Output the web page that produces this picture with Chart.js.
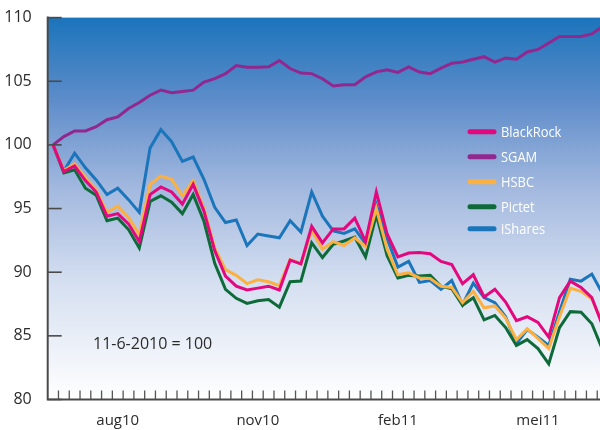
<!DOCTYPE html>
<html>
<head>
<meta charset="utf-8">
<script src="https://cdn.jsdelivr.net/npm/chart.js@4.4.1/dist/chart.umd.min.js"></script>
<style>
html, body { margin:0; padding:0; overflow:hidden; background:#ffffff; }
#wrap { position:relative; width:608px; height:430px; }
</style>
</head>
<body>
<div id="wrap"><canvas id="c"></canvas></div>
<script>
// Weekly categories (labels shown only at quarter marks)
const categories = ["","","","","","","aug10","","","","","","",
  "","","","","","","nov10","","","","","","",
  "","","","","","","feb11","","","","","","",
  "","","","","","","mei11","","","","","",""];

const seriesNames = ["BlackRock", "SGAM", "HSBC", "Pictet", "iShares"];

const blackRock = [100,97.9,98.35,97.2,96.3,94.4,94.6,93.8,92.4,96.1,96.7,96.3,95.35,96.9,94.8,91.7,89.7,88.9,88.6,88.75,88.9,88.6,90.95,90.65,93.6,92.3,93.4,93.4,94.25,92.4,96.3,93.0,91.2,91.5,91.55,91.45,90.85,90.6,89.1,89.8,88.05,88.65,87.65,86.2,86.5,86.05,84.9,88.0,89.3,88.8,88.0,85.8];
const sgam = [100,100.65,101.1,101.1,101.43,101.98,102.2,102.86,103.33,103.9,104.3,104.1,104.2,104.3,104.94,105.2,105.6,106.23,106.1,106.1,106.13,106.62,106.0,105.64,105.6,105.2,104.63,104.73,104.73,105.35,105.74,105.9,105.7,106.13,105.72,105.6,106.03,106.42,106.52,106.73,106.93,106.5,106.83,106.73,107.3,107.5,108.0,108.52,108.52,108.52,108.72,109.3];
const hsbc = [100,98.0,98.5,97.45,96.45,94.7,95.2,94.3,92.95,96.9,97.55,97.3,96.0,97.2,95.0,91.9,90.2,89.75,89.1,89.4,89.25,88.95,91.0,90.65,93.3,91.8,92.4,92.1,92.7,92.0,95.0,91.8,89.8,89.95,89.55,89.5,88.9,88.8,87.6,88.5,87.2,87.35,86.4,84.7,85.55,84.8,84.0,86.5,88.75,88.5,87.9,86.0];
const pictet = [100,97.8,98.05,96.6,96.05,94.05,94.25,93.35,91.9,95.55,96.0,95.5,94.6,96.1,94.0,90.7,88.65,87.95,87.55,87.75,87.85,87.25,89.25,89.3,92.3,91.15,92.2,92.45,92.75,91.2,94.5,91.3,89.55,89.75,89.7,89.75,88.9,88.7,87.4,88.0,86.25,86.6,85.65,84.25,84.7,84.0,82.8,85.65,86.9,86.85,85.95,83.9];
const iShares = [100,97.95,99.35,98.2,97.25,96.1,96.6,95.7,94.7,99.75,101.2,100.25,98.7,99.05,97.3,95.1,93.9,94.1,92.1,93.0,92.85,92.7,94.05,93.15,96.3,94.4,93.25,93.05,93.4,92.25,95.3,92.65,90.4,90.85,89.2,89.35,88.65,89.35,87.45,89.15,88.0,87.6,86.5,84.4,85.5,84.9,84.25,86.9,89.45,89.3,89.85,88.3];

const yTickValues = [80, 85, 90, 95, 100, 105, 110];
const noteText = "11-6-2010 = 100";

const colors = ["#e4087e", "#92278f", "#fbb040", "#0f6a3a", "#1b75bb"];
const seriesData = [blackRock, sgam, hsbc, pictet, iShares];

const FONT = "'Open Sans', 'DejaVu Sans', sans-serif";

const bgPlugin = {
  id: 'bg',
  beforeDatasetsDraw(chart) {
    const {ctx, chartArea: a} = chart;
    const g = ctx.createLinearGradient(0, a.top, 0, a.bottom);
    g.addColorStop(0, '#1b74bb');
    g.addColorStop(0.22, '#5f8dca');
    g.addColorStop(0.45, '#a3b9df');
    g.addColorStop(0.7, '#d6e0f1');
    g.addColorStop(1, '#ffffff');
    ctx.save();
    ctx.fillStyle = g;
    ctx.fillRect(a.left, a.top, a.right - a.left, a.bottom - a.top);
    ctx.restore();
  }
};

const decoPlugin = {
  id: 'deco',
  afterDatasetsDraw(chart) {
    const {ctx, chartArea: a} = chart;
    const xs = chart.scales.x, ys = chart.scales.y;
    ctx.save();
    // inward y ticks
    ctx.strokeStyle = '#4a4a4a';
    ctx.lineWidth = 1.6;
    ys.ticks.forEach(t => {
      const y = ys.getPixelForValue(t.value);
      ctx.beginPath();
      ctx.moveTo(a.left, y);
      ctx.lineTo(a.left + 14, y);
      ctx.stroke();
    });
    // inward x ticks at category boundaries
    ctx.strokeStyle = '#555555';
    ctx.lineWidth = 1.3;
    for (let i = 1; i < categories.length; i++) {
      const x = (xs.getPixelForValue(i - 1) + xs.getPixelForValue(i)) / 2;
      ctx.beginPath();
      ctx.moveTo(x, a.bottom);
      ctx.lineTo(x, a.bottom - 9);
      ctx.stroke();
    }
    // axes lines
    ctx.strokeStyle = '#4a4a4a';
    ctx.lineWidth = 2;
    ctx.beginPath();
    ctx.moveTo(a.left, a.top - 1);
    ctx.lineTo(a.left, a.bottom);
    ctx.lineTo(a.right, a.bottom);
    ctx.stroke();

    // legend
    const legendY = [131.7, 156.7, 181.7, 206.7, 228.8];
    ctx.lineCap = 'round';
    chart.data.datasets.forEach((ds, i) => {
      const y = legendY[i];
      ctx.strokeStyle = ds.borderColor;
      ctx.lineWidth = 5;
      ctx.beginPath();
      ctx.moveTo(470, y);
      ctx.lineTo(494, y);
      ctx.stroke();
      ctx.save();
      ctx.translate(501, y);
      ctx.scale(0.86, 1);
      ctx.fillStyle = '#ffffff';
      ctx.font = "15px " + FONT;
      ctx.textBaseline = 'middle';
      ctx.textAlign = 'left';
      ctx.fillText(ds.label, 0, 1);
      ctx.restore();
    });

    // note
    ctx.fillStyle = '#2b2b2b';
    ctx.font = "16px " + FONT;
    ctx.textBaseline = 'middle';
    ctx.textAlign = 'left';
    ctx.fillText(noteText, 93, 344);
    ctx.restore();
  }
};

new Chart(document.getElementById('c'), {
  type: 'line',
  data: {
    labels: categories,
    datasets: seriesNames.map((name, i) => ({
      label: name,
      data: seriesData[i],
      borderColor: colors[i],
      backgroundColor: colors[i],
      borderWidth: 3,
      pointRadius: 0,
      tension: 0,
      fill: false,
      borderJoinStyle: 'miter'
    }))
  },
  options: {
    responsive: true,
    maintainAspectRatio: false,
    animation: false,
    layout: { autoPadding: false, padding: { top: 14.3, right: 0, left: 0, bottom: 0 } },
    plugins: { legend: { display: false }, tooltip: { enabled: false } },
    scales: {
      x: {
        type: 'category',
        offset: true,
        grid: { display: false, offset: true },
        border: { display: false },
        ticks: {
          autoSkip: false, maxRotation: 0, minRotation: 0,
          color: '#2b2b2b', font: { family: FONT, size: 15 }, padding: 4
        },
        afterFit(s) { s.height = 30.5; }
      },
      y: {
        min: 80, max: 110,
        afterBuildTicks(s) { s.ticks = yTickValues.map(v => ({ value: v })); },
        grid: { display: false },
        border: { display: false },
        ticks: {
          color: '#2b2b2b', font: { family: FONT, size: 16 }, padding: 8
        },
        afterFit(s) { s.width = 47.7; }
      }
    }
  },
  plugins: [bgPlugin, decoPlugin]
});
</script>
</body>
</html>
